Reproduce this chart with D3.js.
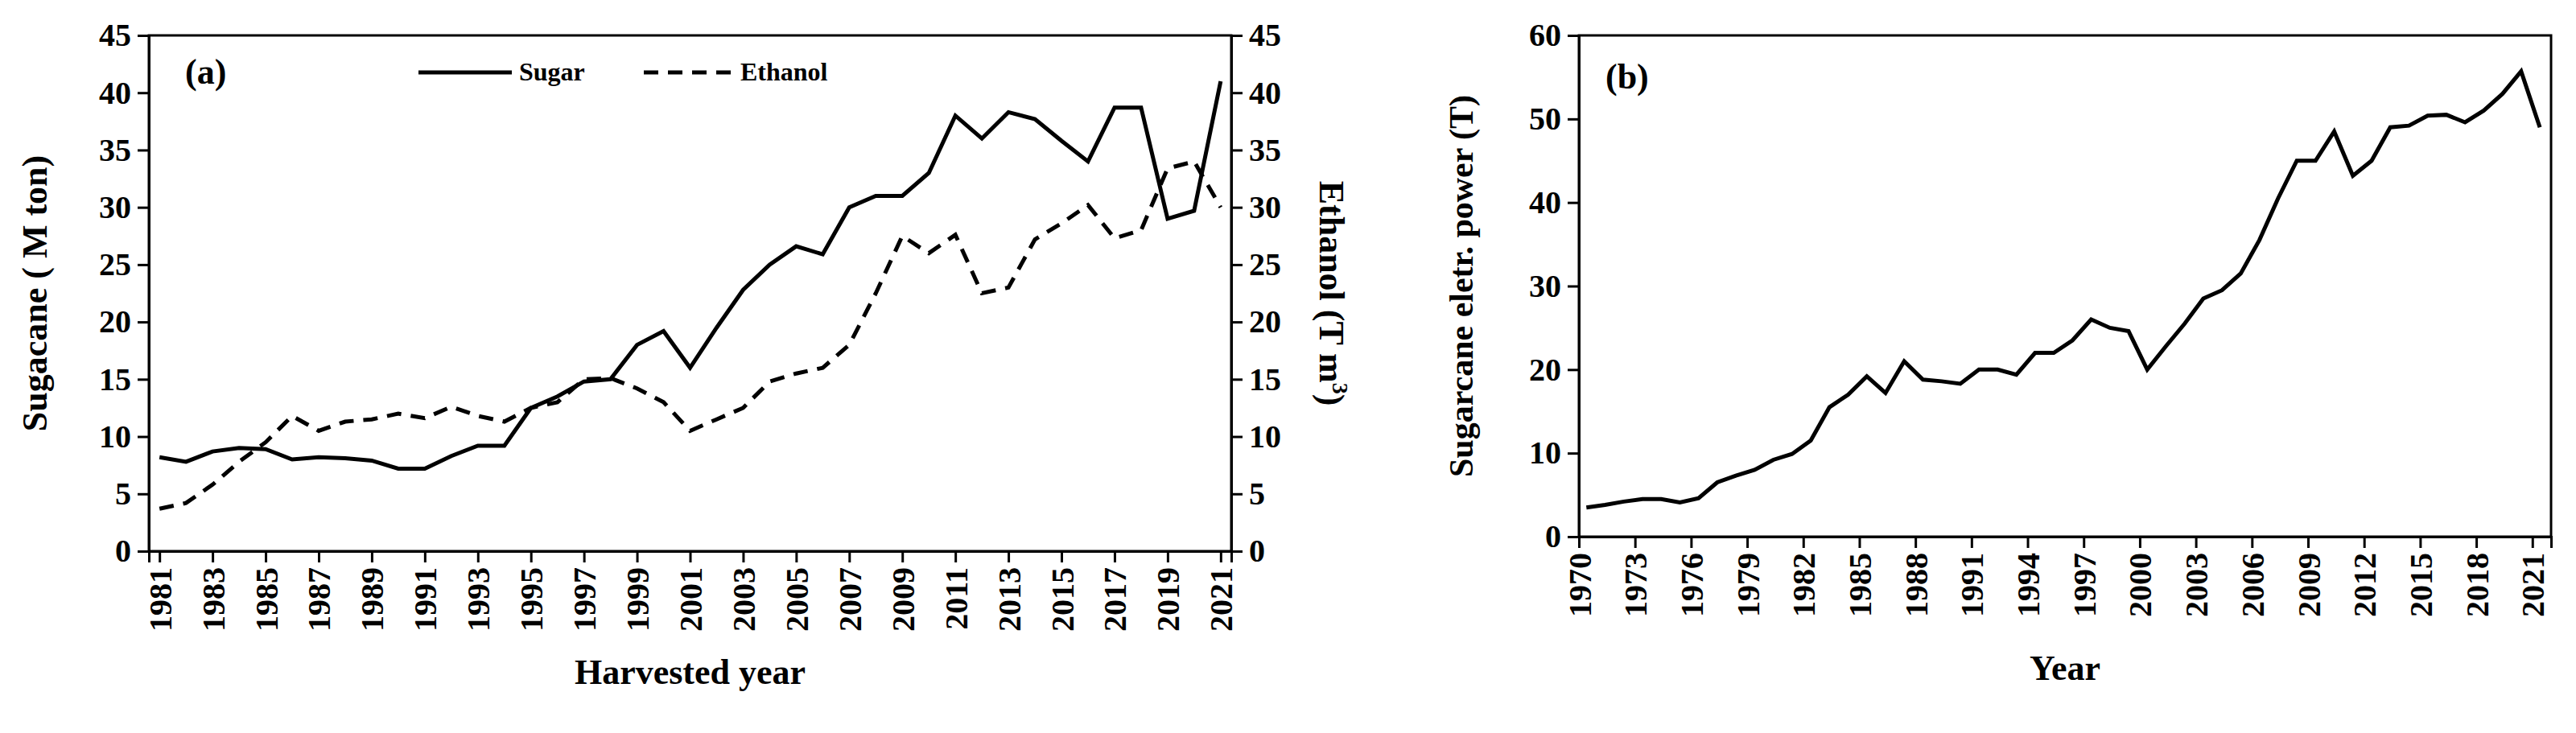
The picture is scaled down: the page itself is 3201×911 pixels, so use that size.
<!DOCTYPE html>
<html><head><meta charset="utf-8">
<script src="https://cdn.jsdelivr.net/npm/d3@7"></script>
<style>
body{margin:0;background:#fff}
text{font-family:"Liberation Serif","Times New Roman",serif;font-weight:bold;fill:#000}
</style></head>
<body><svg id="chart" width="3201" height="911"></svg>
<script>
// panel (a)
const yearsA = d3.range(1981, 2022);
const sugar = [8.2,7.8,8.7,9.0,8.9,8.0,8.2,8.1,7.9,7.2,7.2,8.3,9.2,9.2,12.5,13.5,14.8,15.0,18.0,19.2,16.0,19.5,22.8,25.0,26.6,25.9,30.0,31.0,31.0,33.0,38.0,36.0,38.3,37.7,35.8,34.0,38.7,38.7,29.0,29.7,41.0];
const ethanol = [3.7,4.2,5.8,7.8,9.5,11.8,10.5,11.3,11.5,12.0,11.6,12.6,11.8,11.3,12.5,13.0,15.0,15.1,14.2,13.0,10.5,11.5,12.5,14.8,15.5,16.0,18.0,22.5,27.5,26.0,27.6,22.5,23.0,27.2,28.6,30.2,27.3,28.0,33.4,34.0,30.0];
const ticksA = d3.range(1981, 2022, 2);
// panel (b)
const yearsB = d3.range(1970, 2022);
const power = [3.5,3.8,4.2,4.5,4.5,4.1,4.6,6.5,7.3,8.0,9.2,9.9,11.5,15.5,17.0,19.2,17.2,21.0,18.8,18.6,18.3,20.0,20.0,19.4,22.0,22.0,23.5,26.0,25.0,24.6,20.0,22.8,25.5,28.5,29.5,31.5,35.5,40.5,45.0,45.0,48.5,43.2,45.0,49.0,49.2,50.4,50.5,49.6,51.0,53.0,55.7,49.0];
const ticksB = d3.range(1970, 2022, 3);

const svg = d3.select("#chart");
const plotTop = 44;

function frame(g, L, R, B) {
  g.append("rect").attr("x", L).attr("y", plotTop).attr("width", R - L).attr("height", B - plotTop)
    .attr("fill", "none").attr("stroke", "#000").attr("stroke-width", 3);
}

// ===== PANEL A =====
const aL = 185, aR = 1530, aB = 685;
const xA = d3.scaleLinear().domain([1980.6, 2021.4]).range([aL, aR]);
const yA = d3.scaleLinear().domain([0, 45]).range([aB, plotTop]);
const gA = svg.append("g");
frame(gA, aL, aR, aB);

gA.append("g").attr("transform", `translate(${aL},0)`)
  .call(d3.axisLeft(yA).tickValues(d3.range(0, 46, 5)).tickSize(14).tickPadding(8));
gA.append("g").attr("transform", `translate(${aR},0)`)
  .call(d3.axisRight(yA).tickValues(d3.range(0, 46, 5)).tickSize(14).tickPadding(8));
const axBA = gA.append("g").attr("transform", `translate(0,${aB})`)
  .call(d3.axisBottom(xA).tickValues(ticksA).tickFormat(d3.format("d")).tickSize(14).tickPadding(6));
axBA.selectAll("text").attr("transform", "rotate(-90)").attr("text-anchor", "end")
  .attr("x", -20).attr("y", 0).attr("dy", "0.35em");

const lineA = (vals) => d3.line().x((d, i) => xA(yearsA[i])).y(d => yA(d))(vals);
gA.append("path").attr("d", lineA(sugar)).attr("fill", "none").attr("stroke", "#000").attr("stroke-width", 5);
gA.append("path").attr("d", lineA(ethanol)).attr("fill", "none").attr("stroke", "#000").attr("stroke-width", 5)
  .attr("stroke-dasharray", "18,12");

gA.append("text").attr("x", 230).attr("y", 104).attr("font-size", 44).text("(a)");
gA.append("line").attr("x1", 520).attr("x2", 636).attr("y1", 90).attr("y2", 90).attr("stroke", "#000").attr("stroke-width", 5);
gA.append("text").attr("x", 645).attr("y", 100).attr("font-size", 32).text("Sugar");
gA.append("line").attr("x1", 800).attr("x2", 915).attr("y1", 90).attr("y2", 90).attr("stroke", "#000").attr("stroke-width", 5).attr("stroke-dasharray", "18,12");
gA.append("text").attr("x", 920).attr("y", 100).attr("font-size", 32).text("Ethanol");

gA.append("text").attr("transform", `translate(58,${(plotTop + aB) / 2}) rotate(-90)`)
  .attr("text-anchor", "middle").attr("font-size", 44).text("Sugacane ( M ton)");
const et = gA.append("text").attr("transform", `translate(1640,${(plotTop + aB) / 2}) rotate(90)`)
  .attr("text-anchor", "middle").attr("font-size", 44);
et.append("tspan").text("Ethanol (T m");
et.append("tspan").attr("font-size", 28).attr("dy", -16).text("3");
et.append("tspan").attr("dy", 16).text(")");
gA.append("text").attr("x", (aL + aR) / 2).attr("y", 850).attr("text-anchor", "middle").attr("font-size", 44).text("Harvested year");

// ===== PANEL B =====
const bL = 1962, bR = 3170, bB = 667;
const xB = d3.scaleLinear().domain([1970, 2022]).range([bL, bR]);
const yB = d3.scaleLinear().domain([0, 60]).range([bB, plotTop]);
const gB = svg.append("g");
frame(gB, bL, bR, bB);
gB.append("g").attr("transform", `translate(${bL},0)`)
  .call(d3.axisLeft(yB).tickValues(d3.range(0, 61, 10)).tickSize(14).tickPadding(8));
const axBB = gB.append("g").attr("transform", `translate(0,${bB})`)
  .call(d3.axisBottom(xB).tickValues(ticksB).tickFormat(d3.format("d")).tickSize(14).tickPadding(6));
axBB.selectAll("text").attr("transform", "rotate(-90)").attr("text-anchor", "end")
  .attr("x", -20).attr("y", 0).attr("dy", "0.35em");
gB.append("path").attr("d", d3.line().x((d, i) => xB(yearsB[i] + 0.4)).y(d => yB(d))(power))
  .attr("fill", "none").attr("stroke", "#000").attr("stroke-width", 5);
gB.append("text").attr("x", 1995).attr("y", 110).attr("font-size", 44).text("(b)");
gB.append("text").attr("transform", `translate(1830,${(plotTop + bB) / 2}) rotate(-90)`)
  .attr("text-anchor", "middle").attr("font-size", 42).text("Sugarcane eletr. power (T)");
gB.append("text").attr("x", (bL + bR) / 2).attr("y", 845).attr("text-anchor", "middle").attr("font-size", 44).text("Year");

svg.selectAll(".tick text").attr("font-size", 40).style("font-family", "Liberation Serif").style("font-weight", "bold");
svg.selectAll(".domain, .tick line").attr("stroke", "#000").attr("stroke-width", 3);
</script></body></html>
